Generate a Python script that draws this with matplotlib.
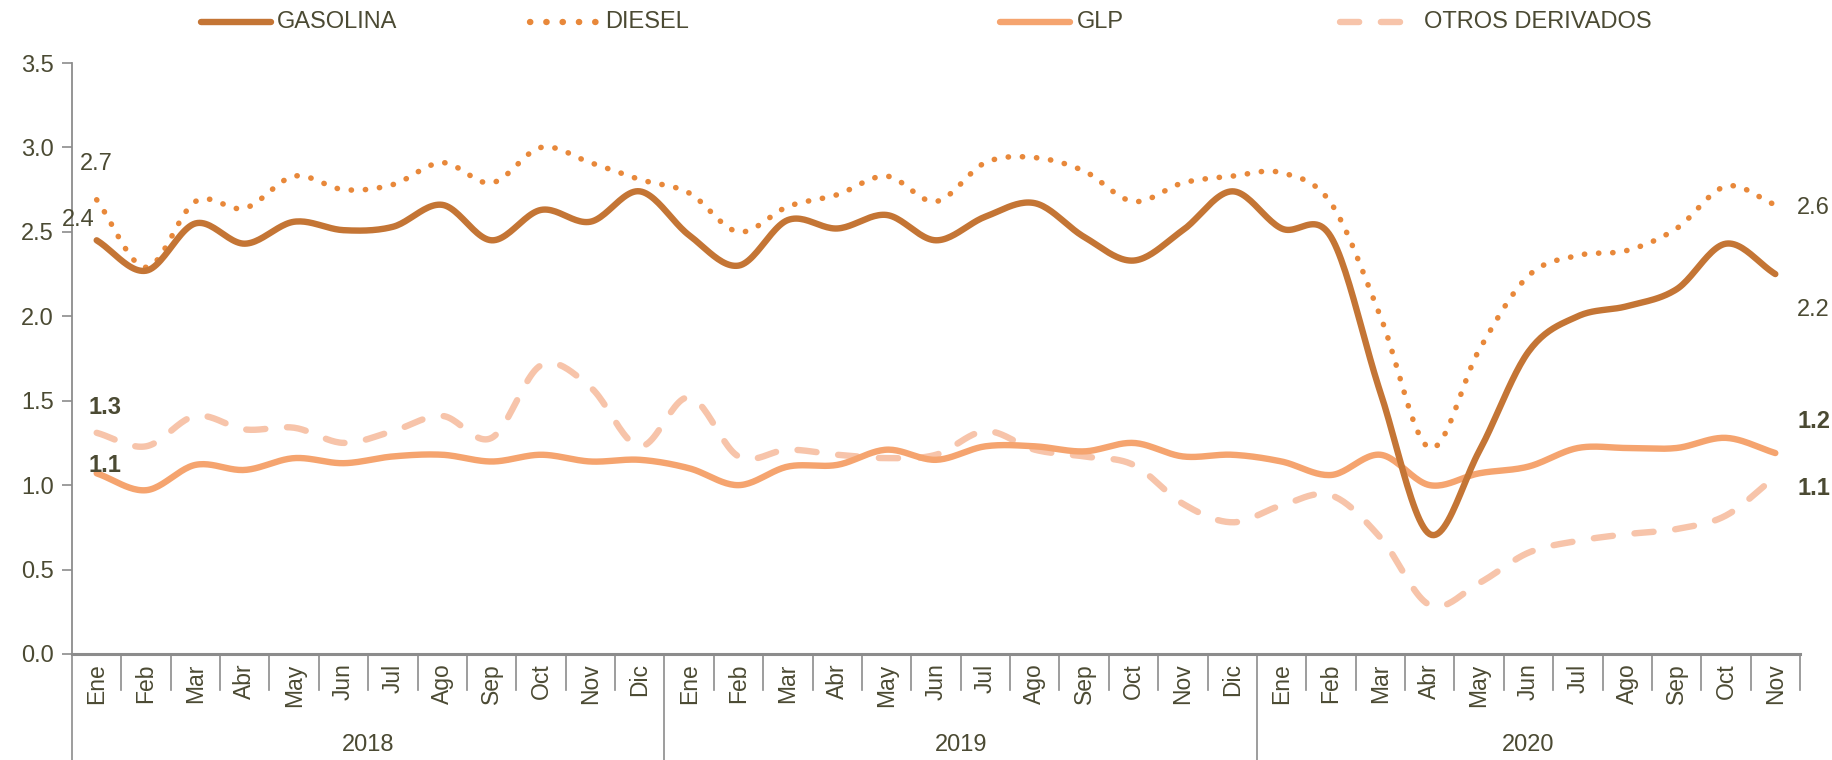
import numpy as np
import matplotlib
matplotlib.use('Agg')
import matplotlib.pyplot as plt

# ── Data ─────────────────────────────────────────────────────────────────────
months = ['Ene', 'Feb', 'Mar', 'Abr', 'May', 'Jun', 'Jul', 'Ago', 'Sep', 'Oct', 'Nov', 'Dic'] * 2 + \
         ['Ene', 'Feb', 'Mar', 'Abr', 'May', 'Jun', 'Jul', 'Ago', 'Sep', 'Oct', 'Nov']
years = ['2018', '2019', '2020']

gasolina = [2.45, 2.27, 2.55, 2.43, 2.56, 2.51, 2.53, 2.66, 2.45, 2.63, 2.56, 2.74,
            2.48, 2.30, 2.57, 2.52, 2.60, 2.45, 2.59, 2.67, 2.47, 2.33, 2.51, 2.74,
            2.52, 2.47, 1.55, 0.71, 1.20, 1.79, 2.00, 2.06, 2.16, 2.43, 2.25]
diesel = [2.69, 2.29, 2.68, 2.64, 2.83, 2.75, 2.78, 2.91, 2.79, 3.00, 2.91, 2.81,
          2.73, 2.50, 2.65, 2.72, 2.83, 2.68, 2.91, 2.94, 2.86, 2.68, 2.79, 2.83,
          2.85, 2.67, 2.00, 1.22, 1.80, 2.24, 2.36, 2.39, 2.52, 2.77, 2.66]
glp = [1.07, 0.97, 1.12, 1.09, 1.16, 1.13, 1.17, 1.18, 1.14, 1.18, 1.14, 1.15,
       1.10, 1.00, 1.11, 1.12, 1.21, 1.15, 1.23, 1.23, 1.20, 1.25, 1.17, 1.18,
       1.14, 1.06, 1.18, 1.00, 1.07, 1.11, 1.22, 1.22, 1.22, 1.28, 1.19]
otros = [1.31, 1.23, 1.41, 1.33, 1.34, 1.25, 1.32, 1.41, 1.28, 1.71, 1.58, 1.23,
         1.52, 1.17, 1.21, 1.18, 1.16, 1.18, 1.32, 1.21, 1.17, 1.12, 0.89, 0.78,
         0.88, 0.94, 0.69, 0.29, 0.42, 0.60, 0.67, 0.71, 0.74, 0.82, 1.05]

first_labels = ['2.7', '2.4', '1.3', '1.1']   # diesel, gasolina, otros, glp
last_labels = ['2.6', '2.2', '1.2', '1.1']    # diesel, gasolina, glp, otros

C_GAS = '#C47535'
C_DIE = '#E8883A'
C_GLP = '#F5A46F'
C_OTR = '#F7C4AA'
C_TXT = '#4B4A33'
C_AX = '#8C8C8C'

NARROW = ['Liberation Sans Narrow', 'Liberation Sans', 'DejaVu Sans']
REG = ['Liberation Sans', 'DejaVu Sans']
FS = 17


def smooth(y, n=24):
    """Catmull-Rom curve through the points, like a spreadsheet 'smoothed line'."""
    y = np.asarray(y, float)
    x = np.arange(len(y), dtype=float)
    px = np.concatenate([[2 * x[0] - x[1]], x, [2 * x[-1] - x[-2]]])
    py = np.concatenate([[2 * y[0] - y[1]], y, [2 * y[-1] - y[-2]]])
    xs, ys = [], []
    t = np.linspace(0, 1, n, endpoint=False)
    for i in range(1, len(px) - 2):
        for arr, a in ((ys, py), (xs, px)):
            a0, a1, a2, a3 = a[i - 1], a[i], a[i + 1], a[i + 2]
            arr.append(0.5 * (2 * a1 + (-a0 + a2) * t + (2 * a0 - 5 * a1 + 4 * a2 - a3) * t ** 2
                              + (-a0 + 3 * a1 - 3 * a2 + a3) * t ** 3))
    xs.append([x[-1]]); ys.append([y[-1]])
    return np.concatenate(xs), np.concatenate(ys)


fig = plt.figure(figsize=(18.33, 7.6), dpi=100)
ax = fig.add_axes([72 / 1833, 1 - 654 / 760, (1800 - 72) / 1833, (654 - 63) / 760])

n = len(months)
DOT = (0, (0.05, 2.5))
DASH = (0, (3.0, 3.4))
xo, yo = smooth(otros)
ax.plot(xo, yo, color=C_OTR, lw=4.6, ls=DASH, dash_capstyle='round', zorder=2)
xg, yg = smooth(glp)
ax.plot(xg, yg, color=C_GLP, lw=4.6, solid_capstyle='round', zorder=3)
xd, yd = smooth(diesel)
ax.plot(xd, yd, color=C_DIE, lw=4.0, ls=DOT, dash_capstyle='round', zorder=4)
xs_, ys_ = smooth(gasolina)
ax.plot(xs_, ys_, color=C_GAS, lw=4.6, solid_capstyle='round', zorder=5)

ax.set_xlim(-0.5, n - 0.5)
ax.set_ylim(0, 3.5)
yt = np.arange(0, 3.51, 0.5)
ax.set_yticks(yt)
ax.set_yticklabels([f'{v:.1f}' for v in yt], family=NARROW, fontsize=FS, color=C_TXT)
ax.tick_params(axis='y', direction='out', length=7, width=1.2, color=C_AX, pad=6)
ax.set_xticks([])
for s in ['top', 'right']:
    ax.spines[s].set_visible(False)
ax.spines['left'].set_color(C_AX)
ax.spines['left'].set_linewidth(1.3)
ax.spines['bottom'].set_color(C_AX)
ax.spines['bottom'].set_linewidth(2.2)

# category axis below the plot (months, then years)
trans = ax.get_xaxis_transform()
for i, m in enumerate(months):
    ax.text(i, -0.016, m, transform=trans, rotation=90, ha='center', va='top',
            family=REG, fontsize=16.5, color=C_TXT)
for b in range(1, n + 1):
    if b % 12 == 0 and b < n:
        continue
    ax.plot([b - 0.5, b - 0.5], [0, -0.062 - 0.0], transform=trans, color=C_AX, lw=1.2,
            clip_on=False) if False else \
        ax.plot([b - 0.5, b - 0.5], [0, -36 / 591 * 1.0 - 0.0], transform=trans,
                color=C_AX, lw=1.2, clip_on=False)
for b in [0, 12, 24]:
    ax.plot([b - 0.5, b - 0.5], [0, -106 / 591], transform=trans, color=C_AX, lw=1.2,
            clip_on=False)
for j, yr in enumerate(years):
    lo = j * 12 - 0.5
    hi = min((j + 1) * 12, n) - 0.5
    ax.text((lo + hi) / 2, -91 / 591, yr, transform=trans, ha='center', va='center',
            family=NARROW, fontsize=FS, color=C_TXT)

# data labels at both ends
kw = dict(textcoords='offset pixels', family=NARROW, fontsize=FS, color=C_TXT,
          va='center', annotation_clip=False)
ax.annotate(first_labels[0], (0, diesel[0]), xytext=(0, 36), ha='center', **kw)
ax.annotate(first_labels[1], (0, gasolina[0]), xytext=(-2, 20), ha='right', zorder=6, **kw)
ax.annotate(first_labels[2], (0, otros[0]), xytext=(-8, 25), ha='left', fontweight='bold', **kw)
ax.annotate(first_labels[3], (0, glp[0]), xytext=(-8, 8), ha='left', fontweight='bold', **kw)
ax.annotate(last_labels[0], (n - 1, diesel[-1]), xytext=(22, -3), ha='left', **kw)
ax.annotate(last_labels[1], (n - 1, gasolina[-1]), xytext=(22, -36), ha='left', **kw)
ax.annotate(last_labels[2], (n - 1, glp[-1]), xytext=(22, 32), ha='left', fontweight='bold', **kw)
ax.annotate(last_labels[3], (n - 1, otros[-1]), xytext=(22, -12), ha='left', fontweight='bold', **kw)

# legend across the top
leg = [('GASOLINA', C_GAS, '-', 201, 271, 277),
       ('DIESEL', C_DIE, DOT, 530, 598, 605),
       ('GLP', C_GLP, '-', 1000, 1070, 1077),
       ('OTROS DERIVADOS', C_OTR, DASH, 1340, 1415, 1424)]
ly = 1 - 22 / 760
for name, col, ls, x0, x1, xt in leg:
    line = plt.Line2D([x0 / 1833, x1 / 1833], [ly, ly], transform=fig.transFigure,
                      color=col, lw=4.6, ls=ls,
                      solid_capstyle='round', dash_capstyle='round')
    fig.add_artist(line)
    fig.text(xt / 1833, ly, name, family=NARROW, fontsize=FS, color=C_TXT,
             ha='left', va='center')

fig.savefig('out.png', dpi=100)
